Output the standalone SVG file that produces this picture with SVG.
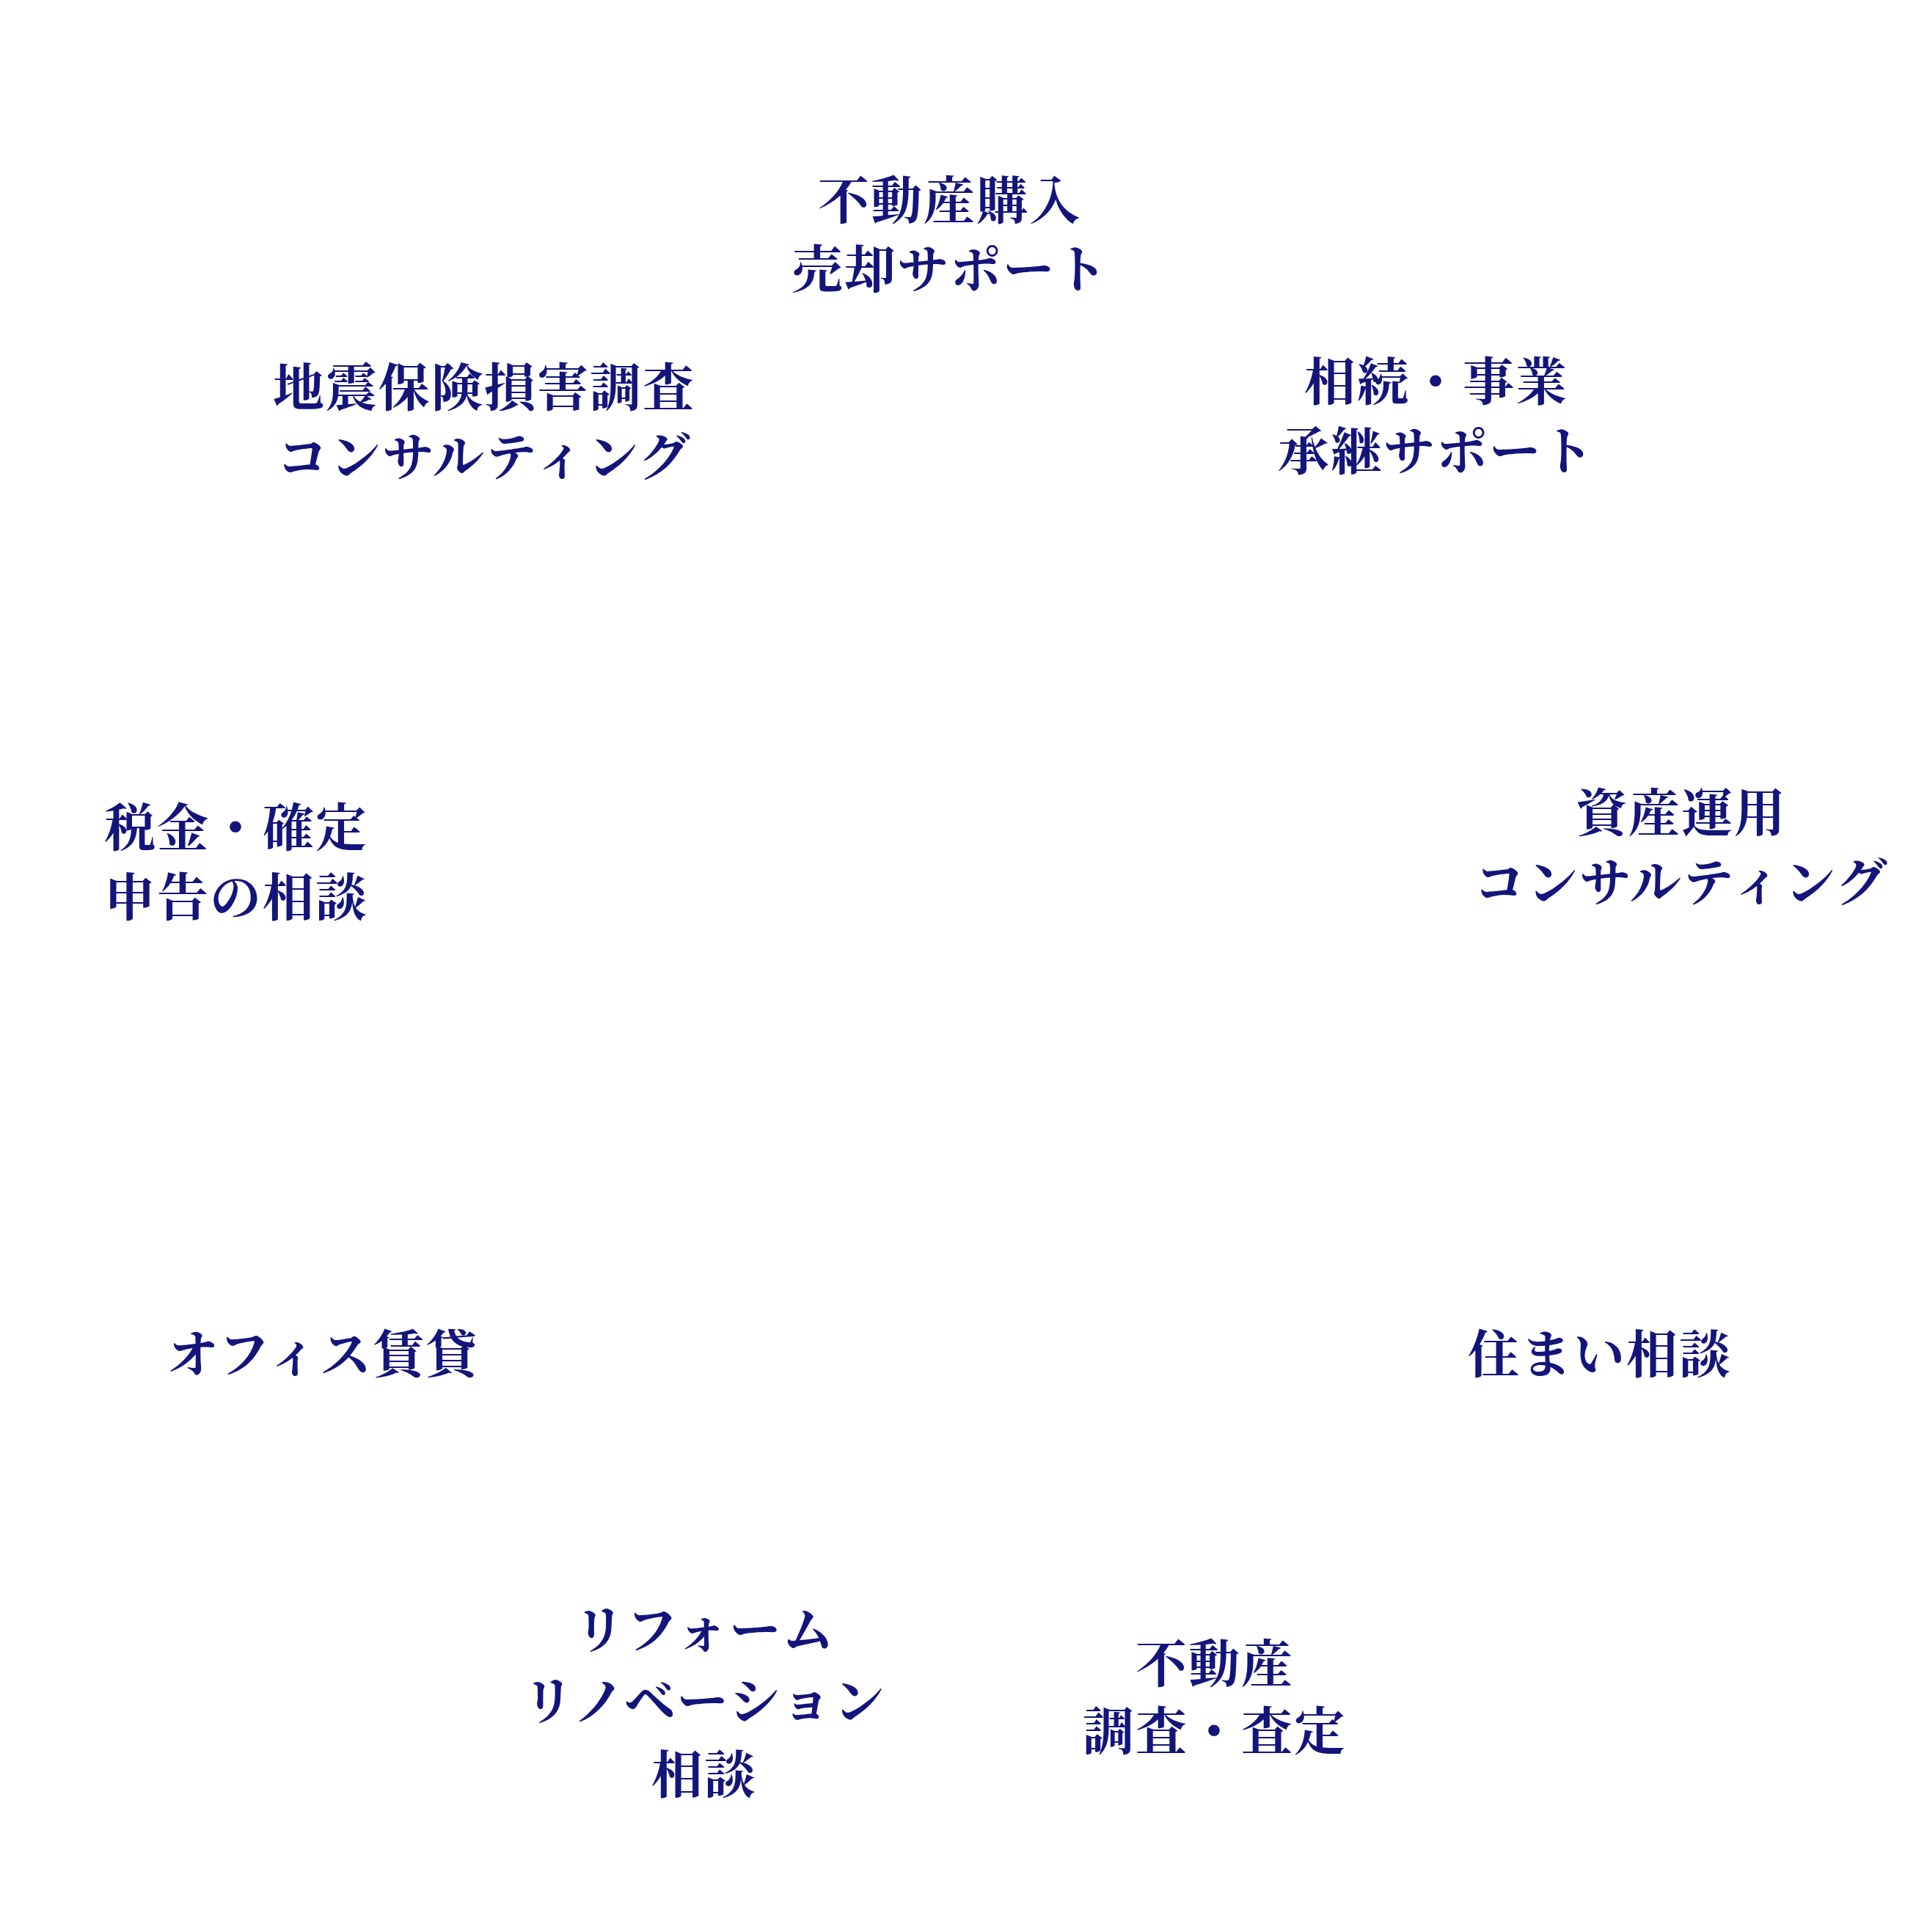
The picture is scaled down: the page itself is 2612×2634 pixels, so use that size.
<svg xmlns="http://www.w3.org/2000/svg" width="2612" height="2634" viewBox="0 0 2612 2634">
<style>
text{font-family:"Noto Serif CJK JP","Noto Sans CJK JP",serif;font-weight:bold;font-size:70px;fill:#14157a;text-anchor:middle;dominant-baseline:central;letter-spacing:2px}
</style>
<rect width="2612" height="2634" fill="#fff"/>
<g id="n1"><text x="1295" y="268">不動産購入</text><text x="1295" y="362">売却サポート</text></g>
<g id="n2"><text x="660" y="523">地震保険損害調査</text><text x="660" y="618">コンサルティング</text></g>
<g id="n3"><text x="1958" y="515">相続・事業</text><text x="1958" y="610">承継サポート</text></g>
<g id="n4"><text x="2292" y="1103">資産運用</text><text x="2292" y="1198">コンサルティング</text></g>
<g id="n5"><text x="322" y="1123">税金・確定</text><text x="322" y="1218">申告の相談</text></g>
<g id="n6"><text x="440" y="1841">オフィス賃貸</text></g>
<g id="n7"><text x="2181" y="1841">住まい相談</text></g>
<g id="n8"><text x="960" y="2217">リフォーム</text><text x="960" y="2314">リノベーション</text><text x="960" y="2414">相談</text></g>
<g id="n9"><text x="1656" y="2263">不動産</text><text x="1656" y="2355">調査・査定</text></g>
<g id="connectors"/>
</svg>
